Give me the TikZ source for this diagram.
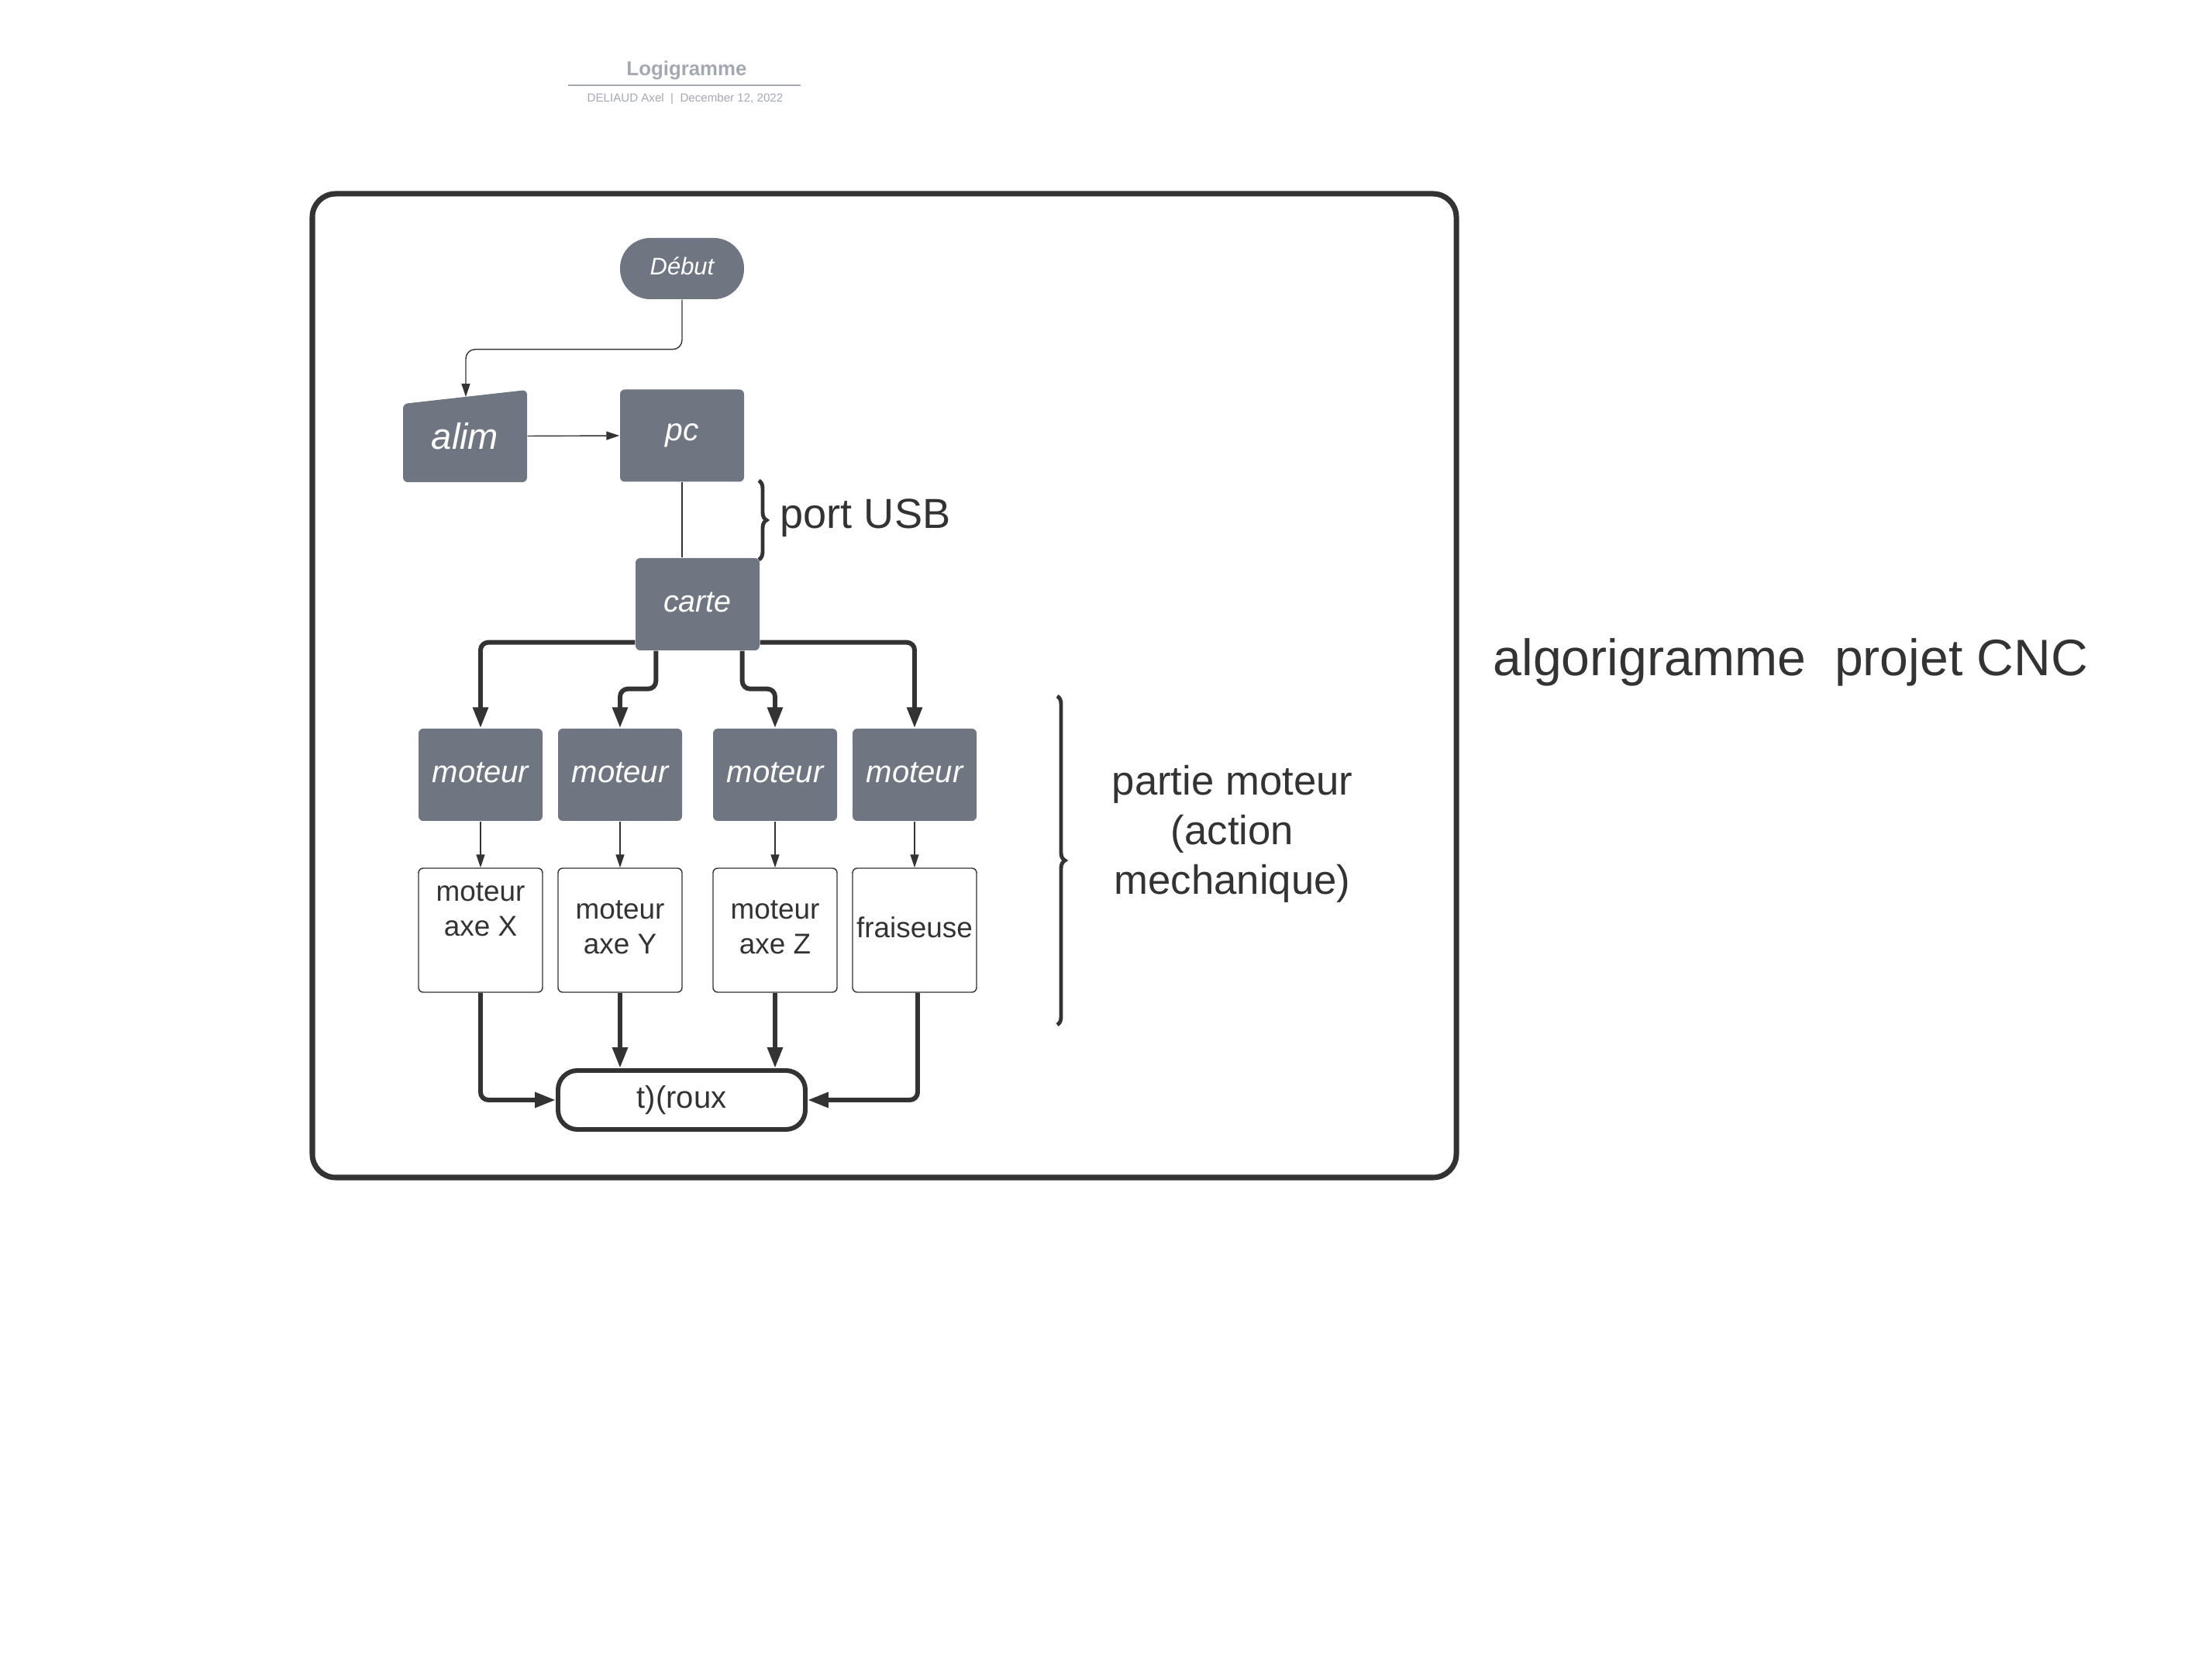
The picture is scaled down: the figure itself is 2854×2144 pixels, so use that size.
\documentclass[tikz,border=0pt]{standalone}
\usepackage{fontspec}
\setmainfont{Liberation Sans}
\usetikzlibrary{arrows.meta,decorations.pathreplacing}
\definecolor{lucidgray}{RGB}{111,118,129}
\definecolor{inkdark}{RGB}{51,51,51}
\definecolor{titlegray}{RGB}{163,168,178}

\begin{document}
\begin{tikzpicture}[x=0.1mm, y=-0.1mm,
    graybox/.style={fill=lucidgray, text=white, rounded corners=0.6mm, minimum width=16mm, minimum height=11.9mm, inner sep=0pt, font=\fontsize{11.4}{13.7}\selectfont\itshape},
    whitebox/.style={draw=inkdark, line width=0.4pt, rounded corners=0.6mm, minimum width=16mm, minimum height=16mm, inner sep=0pt, align=center, text=inkdark, text depth=0.8mm, font=\fontsize{10.5}{12.8}\selectfont},
    thinarrow/.style={draw=inkdark, line width=0.4pt, -{Triangle[length=1.7mm, width=1.1mm]}},
    thickarrow/.style={draw=inkdark, line width=1.7pt, rounded corners=1mm, -{Triangle[length=2.7mm, width=1.9mm]}},
    bracket/.style={draw=inkdark, line width=1.4pt, decorate, decoration={brace, amplitude=1mm}},
    sidetext/.style={text=inkdark, inner sep=0pt}]
    \useasboundingbox (0,0) rectangle (2854,2144);

    % Title block
    \node[titlegray, inner sep=0pt, anchor=base, font=\fontsize{7.35}{9}\selectfont\bfseries] (titre) at (886,98) {Logigramme};
    \draw[titlegray, line width=0.6pt] (733,110) -- (1033,110);
    \node[titlegray, inner sep=0pt, anchor=base, font=\fontsize{4.3}{5}\selectfont] (auteur) at (884,132) {DELIAUD Axel\ \ |\ \ December 12, 2022};

    % Outer frame
    \draw[inkdark, line width=2pt, rounded corners=3mm] (403,250) rectangle (1879,1519);

    % Start, power supply and computer
    \node[graybox, rounded corners=3.9mm, minimum height=7.9mm, text depth=0.7mm, font=\fontsize{8.8}{10.5}\selectfont\itshape] (debut) at (880,346.5) {Début};
    \fill[lucidgray, rounded corners=0.6mm] (520,622) -- (520,521) -- (680,503) -- (680,622) -- cycle;
    \node[graybox, fill=none, font=\fontsize{13.4}{16}\selectfont\itshape] (alim) at (600,562.5) {alim};
    \coordinate (alimtop) at (601,512);
    \node[graybox, font=\fontsize{11.6}{14}\selectfont\itshape] (pc) at (880,562) {pc};
    \node[graybox, text depth=0.6mm, font=\fontsize{11.2}{13.4}\selectfont\itshape] (carte) at (900,779.5) {carte};

    \draw[thinarrow, rounded corners=1.2mm] (debut.south) -- ++(0,64) -| (alimtop);
    \draw[thinarrow] (alim.east) -- (pc.west);
    \draw[inkdark, line width=0.4pt] (pc.south) -- (pc.south |- carte.north);

    % USB link
    \draw[bracket] (979,620) -- (979,722);
    \node[sidetext, anchor=base west, font=\fontsize{15.4}{18.5}\selectfont] (usb) at (1006,682) {port USB};

    % Motors
    \node[graybox, text depth=0.6mm] (mot1) at (620,999.5) {moteur};
    \node[graybox, text depth=0.6mm] (mot2) at (800,999.5) {moteur};
    \node[graybox, text depth=0.6mm] (mot3) at (1000,999.5) {moteur};
    \node[graybox, text depth=0.6mm] (mot4) at (1180,999.5) {moteur};

    \draw[thickarrow] ([yshift=1.1mm]carte.south west) -| (mot1.north);
    \draw[thickarrow] ([xshift=2.7mm]carte.south west) -- ++(0,49) -| (mot2.north);
    \draw[thickarrow] ([xshift=-2.3mm]carte.south east) -- ++(0,49) -| (mot3.north);
    \draw[thickarrow] ([yshift=1.1mm]carte.south east) -| (mot4.north);

    % Axes and spindle
    \node[whitebox] (ax1) at (620,1200) {moteur\\axe X\\~};
    \node[whitebox] (ax2) at (800,1200) {moteur\\axe Y};
    \node[whitebox] (ax3) at (1000,1200) {moteur\\axe Z};
    \node[whitebox] (ax4) at (1180,1200) {fraiseuse};

    \draw[thinarrow] (mot1.south) -- (ax1.north);
    \draw[thinarrow] (mot2.south) -- (ax2.north);
    \draw[thinarrow] (mot3.south) -- (ax3.north);
    \draw[thinarrow] (mot4.south) -- (ax4.north);

    % End
    \node[draw=inkdark, line width=1.7pt, rounded corners=2.5mm, minimum width=31.9mm, minimum height=7.6mm, inner sep=0pt, text=inkdark, font=\fontsize{11.4}{13.7}\selectfont] (fin) at (879.5,1419) {t)(roux};

    \draw[thickarrow] (ax1.south) |- (fin.west);
    \draw[thickarrow] (ax2.south) -- (ax2.south |- fin.north);
    \draw[thickarrow] (ax3.south) -- (ax3.south |- fin.north);
    \draw[thickarrow] ([xshift=0.4mm]ax4.south) |- (fin.east);

    % Side notes
    \draw[bracket] (1364,898) -- (1364,1322);
    \node[sidetext, align=center, font=\fontsize{15}{18.2}\selectfont] (partie) at (1590,1076) {partie moteur\\(action\\mechanique)};
    \node[sidetext, anchor=base west, font=\fontsize{18.8}{22.5}\selectfont] (projet) at (1926,872) {algorigramme\ \ projet CNC};
\end{tikzpicture}
\end{document}
